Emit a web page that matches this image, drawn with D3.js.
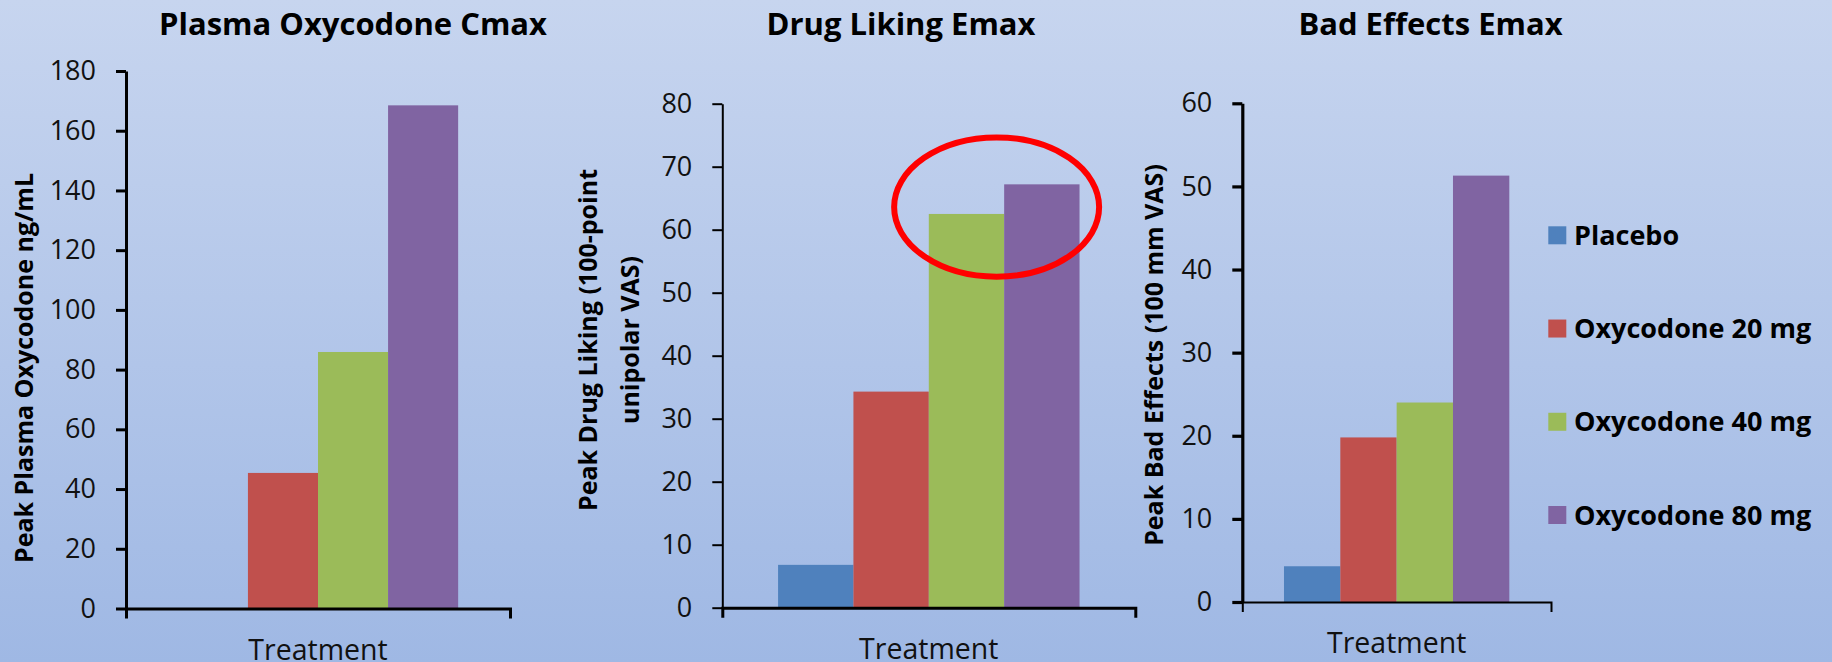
<!DOCTYPE html>
<html>
<head>
<meta charset="utf-8">
<script src="https://cdn.jsdelivr.net/npm/d3@7"></script>
<style>
  html, body { margin: 0; padding: 0; overflow: hidden; background: #b3c6ea; }
  svg { display: block; }
</style>
</head>
<body>
<svg id="chart" width="1832" height="662"></svg>
<script>
// ---- data ----
const categories = ["Treatment"];
const series = ["Placebo", "Oxycodone 20 mg", "Oxycodone 40 mg", "Oxycodone 80 mg"];
const seriesColors = ["#4F81BD", "#C0504D", "#9BBB59", "#8064A2"];

// Peak plasma oxycodone (ng/mL); no placebo bar is drawn
const plasmaCmax = [null, 45.4, 85.9, 168.5];
// Peak drug liking (100-point unipolar VAS)
const drugLiking = [6.8, 34.3, 62.5, 67.2];
// Peak bad effects (100 mm VAS)
const badEffects = [4.3, 19.8, 24.0, 51.3];

const plasmaTicks = [0, 20, 40, 60, 80, 100, 120, 140, 160, 180];
const likingTicks = [0, 10, 20, 30, 40, 50, 60, 70, 80];
const badTicks = [0, 10, 20, 30, 40, 50, 60];

const titles = ["Plasma Oxycodone Cmax", "Drug Liking Emax", "Bad Effects Emax"];
const yLabels = [
  ["Peak Plasma Oxycodone ng/mL"],
  ["Peak Drug Liking (100-point", "unipolar VAS)"],
  ["Peak Bad Effects (100 mm VAS)"]
];
const xLabel = "Treatment";

// ---- layout ----
const FONT = "'Open Sans', Lato, 'Noto Sans', sans-serif";
const panels = [
  { values: plasmaCmax, ticks: plasmaTicks, title: titles[0], yLabel: yLabels[0],
    left: 126, right: 510, top: 71, bottom: 608.5, yStroke: 3, xStroke: 3,
    titleX: 353, labelX: 32.5, labelY: 368 },
  { values: drugLiking, ticks: likingTicks, title: titles[1], yLabel: yLabels[1],
    left: 722.3, right: 1135.3, top: 103.7, bottom: 607.7, yStroke: 2, xStroke: 3,
    titleX: 901, labelX: 596.8, labelY: 340 },
  { values: badEffects, ticks: badTicks, title: titles[2], yLabel: yLabels[2],
    left: 1242.3, right: 1551, top: 103.3, bottom: 602, yStroke: 3.2, xStroke: 2,
    titleX: 1430.5, labelX: 1163, labelY: 355 }
];

const svg = d3.select("#chart").attr("font-family", FONT);

// background gradient
const defs = svg.append("defs");
const grad = defs.append("linearGradient")
  .attr("id", "bg").attr("x1", 0).attr("y1", 0).attr("x2", 0).attr("y2", 1);
grad.append("stop").attr("offset", "0%").attr("stop-color", "#c7d5ef");
grad.append("stop").attr("offset", "100%").attr("stop-color", "#9fb8e4");
svg.append("rect").attr("width", 1832).attr("height", 662).attr("fill", "url(#bg)");

panels.forEach((p, idx) => {
  const g = svg.append("g");
  const yMax = p.ticks[p.ticks.length - 1];
  const y = d3.scaleLinear().domain([0, yMax]).range([p.bottom, p.top]);
  const x0 = d3.scaleBand().domain(categories).range([p.left, p.right])
    .paddingInner(0).paddingOuter(0.185);
  const x1 = d3.scaleBand().domain(series).range([0, x0.bandwidth()]).padding(0);
  p.x0 = x0; p.x1 = x1; p.y = y;

  // bars
  const rows = series.map((s, i) => ({ s, v: p.values[i], c: seriesColors[i] }))
    .filter(d => d.v != null);
  g.selectAll("rect.bar").data(rows).join("rect")
    .attr("class", "bar")
    .attr("x", d => x0(categories[0]) + x1(d.s))
    .attr("width", x1.bandwidth())
    .attr("y", d => y(d.v))
    .attr("height", d => y(0) - y(d.v))
    .attr("fill", d => d.c);

  // value axis
  const ya = g.append("g")
    .attr("transform", `translate(${p.left},0)`)
    .call(d3.axisLeft(y).tickValues(p.ticks).tickSize(10).tickSizeOuter(0).tickPadding(20));
  ya.attr("font-family", FONT).attr("font-size", 27);
  ya.select(".domain").attr("stroke", "#000").attr("stroke-width", p.yStroke);
  ya.selectAll(".tick line").attr("stroke", "#000").attr("stroke-width", p.yStroke);
  ya.selectAll(".tick text").attr("fill", "#111");

  // category axis (end tick marks only)
  const xa = g.append("g")
    .attr("transform", `translate(0,${p.bottom})`)
    .call(d3.axisBottom(x0).tickValues([]).tickSizeOuter(10));
  xa.select(".domain").attr("stroke", "#000").attr("stroke-width", p.xStroke)
    .attr("stroke-linejoin", "miter");

  // title
  svg.append("text")
    .attr("x", p.titleX).attr("y", 35)
    .attr("text-anchor", "middle")
    .attr("font-weight", "bold").attr("font-size", 31)
    .attr("fill", "#000")
    .text(p.title);

  // category axis title
  svg.append("text")
    .attr("x", (p.left + p.right) / 2).attr("y", p.bottom + 51)
    .attr("text-anchor", "middle")
    .attr("font-size", 28.5).attr("fill", "#111")
    .text(xLabel);

  // value axis title
  p.yLabel.forEach((line, li) => {
    svg.append("text")
      .attr("transform", `translate(${p.labelX + li * 42},${p.labelY}) rotate(-90)`)
      .attr("text-anchor", "middle")
      .attr("font-weight", "bold").attr("font-size", 25)
      .attr("fill", "#000")
      .text(line);
  });
});

// highlight ring around the two highest drug-liking bars
{
  const p = panels[1];
  const cx = p.x0(categories[0]) + p.x1(series[3]) - 0.1 * p.x1.bandwidth();
  const cy = p.y(63.6);
  svg.append("ellipse")
    .attr("cx", cx).attr("cy", cy)
    .attr("rx", 1.36 * p.x1.bandwidth())
    .attr("ry", p.y(0) - p.y(11.05))
    .attr("fill", "none")
    .attr("stroke", "#ff0000")
    .attr("stroke-width", 6);
}

// legend
const ly = d3.scalePoint().domain(series).range([235.3, 515]);
const legend = svg.append("g");
series.forEach((s, i) => {
  legend.append("rect")
    .attr("x", 1548.3).attr("y", ly(s) - 9)
    .attr("width", 18).attr("height", 18)
    .attr("fill", seriesColors[i]);
  legend.append("text")
    .attr("x", 1574).attr("y", ly(s))
    .attr("dy", "0.36em")
    .attr("font-weight", "bold").attr("font-size", 27)
    .attr("fill", "#000")
    .text(s);
});
</script>
</body>
</html>
